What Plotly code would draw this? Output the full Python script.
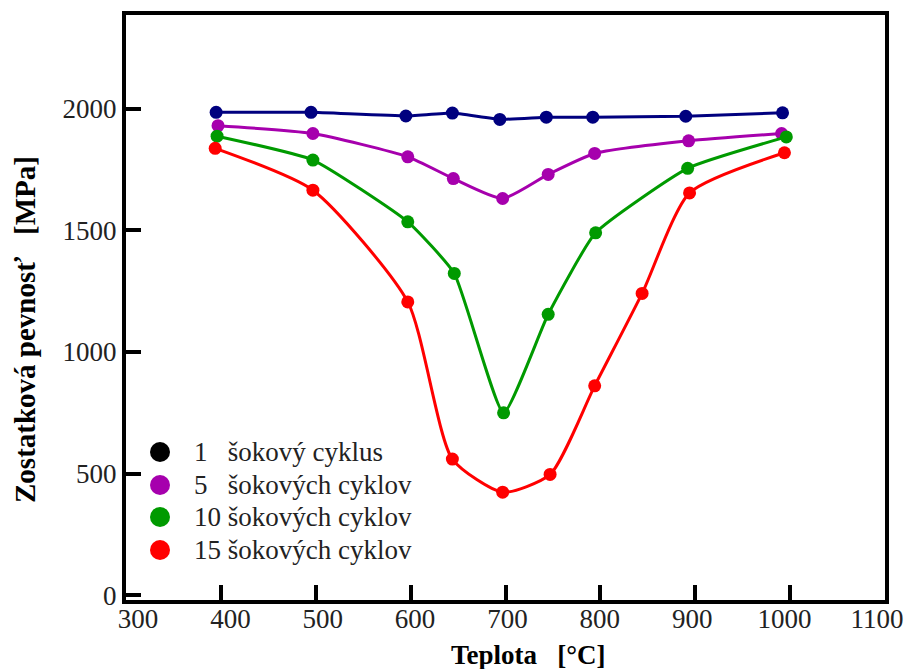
import plotly.graph_objects as go

# Teplota [°C] a zostatková pevnosť [MPa] po tepelných šokoch
t_1 = [395, 495, 595, 644, 694, 743, 792, 890, 992]
r_1 = [1985, 1985, 1970, 1982, 1956, 1965, 1965, 1969, 1983]

t_5 = [397, 497, 597, 645, 697, 745, 794, 893, 991]
r_5 = [1930, 1898, 1802, 1713, 1631, 1730, 1816, 1868, 1898]

t_10 = [396, 497, 597, 646, 698, 745, 795, 892, 996]
r_10 = [1887, 1789, 1535, 1323, 750, 1155, 1490, 1755, 1884]

t_15 = [394, 497, 597, 644, 697, 747, 794, 844, 894, 994]
r_15 = [1837, 1665, 1206, 560, 424, 497, 861, 1241, 1654, 1819]

legend_labels = [
    "1\u00a0\u00a0\u00a0šokový cyklus",
    "5\u00a0\u00a0\u00a0šokových cyklov",
    "10 šokových cyklov",
    "15 šokových cyklov",
]
line_colors = ["#00007F", "#A600AD", "#009A00", "#FF0000"]
legend_colors = ["#000000", "#A600AD", "#009A00", "#FF0000"]
smooth = [0.3, 0.55, 0.45, 0.62]

x_ticks = [300, 400, 500, 600, 700, 800, 900, 1000, 1100]
y_ticks = [0, 500, 1000, 1500, 2000]

SERIF = "Liberation Serif, Times New Roman, serif"
TICK_FONT = dict(family=SERIF, size=27, color="#222222")

# plot area in pixels
W, H = 906, 669
L, R, T, B = 126, 21, 15, 69
PW, PH = W - L - R, H - T - B


def px_x(p):
    return (p - L) / PW


def px_y(p):
    return (H - B - p) / PH


fig = go.Figure()

series = [(t_1, r_1), (t_5, r_5), (t_10, r_10), (t_15, r_15)]
for (tx, ry), col, sm in zip(series, line_colors, smooth):
    fig.add_trace(go.Scatter(
        x=tx, y=ry, mode="lines+markers",
        line=dict(color=col, width=3, shape="spline", smoothing=sm),
        marker=dict(color=col, size=13),
        showlegend=False, hoverinfo="x+y",
    ))

# empty trace so the label axis gets drawn
fig.add_trace(go.Scatter(x=[None], y=[None], xaxis="x2", yaxis="y",
                         mode="markers", showlegend=False, hoverinfo="skip"))

frame = dict(
    showline=True, linewidth=4, linecolor="black", mirror=True,
    ticks="inside", ticklen=15, tickwidth=4, tickcolor="black",
    showgrid=False, zeroline=False, automargin=False,
)

fig.update_layout(
    xaxis=dict(range=[300, 1100], tickvals=x_ticks, showticklabels=False, **frame),
    # tick labels of the temperature axis
    xaxis2=dict(range=[287, 1108.7], tickvals=x_ticks, overlaying="x", anchor="y",
                side="bottom", ticks="", showline=False, showgrid=False,
                zeroline=False, tickfont=TICK_FONT, fixedrange=True,
                automargin=False),
    yaxis=dict(range=[-19, 2385], tickvals=y_ticks, tickfont=TICK_FONT, **frame),
)

# legend: swatches + labels
rows_y = [452, 485, 517, 550]
shapes = []
annotations = []
for name, col, ry in zip(legend_labels, legend_colors, rows_y):
    shapes.append(dict(
        type="circle", xref="paper", yref="paper",
        xsizemode="pixel", ysizemode="pixel",
        xanchor=px_x(160), yanchor=px_y(ry),
        x0=-10, x1=10, y0=-10, y1=10,
        fillcolor=col, line=dict(width=0),
    ))
    annotations.append(dict(
        text=name, xref="paper", yref="paper",
        x=px_x(192), y=px_y(ry), xanchor="left", yanchor="middle",
        showarrow=False, font=dict(family=SERIF, size=27, color="#222222"),
    ))

annotations += [
    dict(text="<b>Teplota\u00a0\u00a0\u00a0[°C]</b>", xref="paper", yref="paper",
         x=px_x(528), y=px_y(655), xanchor="center", yanchor="middle",
         showarrow=False, font=dict(family=SERIF, size=27, color="black")),
    dict(text="<b>Zostatková pevnosť\u00a0\u00a0\u00a0[MPa]</b>", xref="paper", yref="paper",
         x=px_x(25), y=px_y(330), textangle=-90,
         xanchor="center", yanchor="middle", showarrow=False,
         font=dict(family=SERIF, size=29, color="black")),
]

fig.update_layout(
    width=W, height=H,
    margin=dict(l=L, r=R, t=T, b=B, autoexpand=False),
    paper_bgcolor="white", plot_bgcolor="white",
    font=dict(family=SERIF, size=27, color="#222222"),
    showlegend=False,
    shapes=shapes,
    annotations=annotations,
)

fig.write_html("out.html")
